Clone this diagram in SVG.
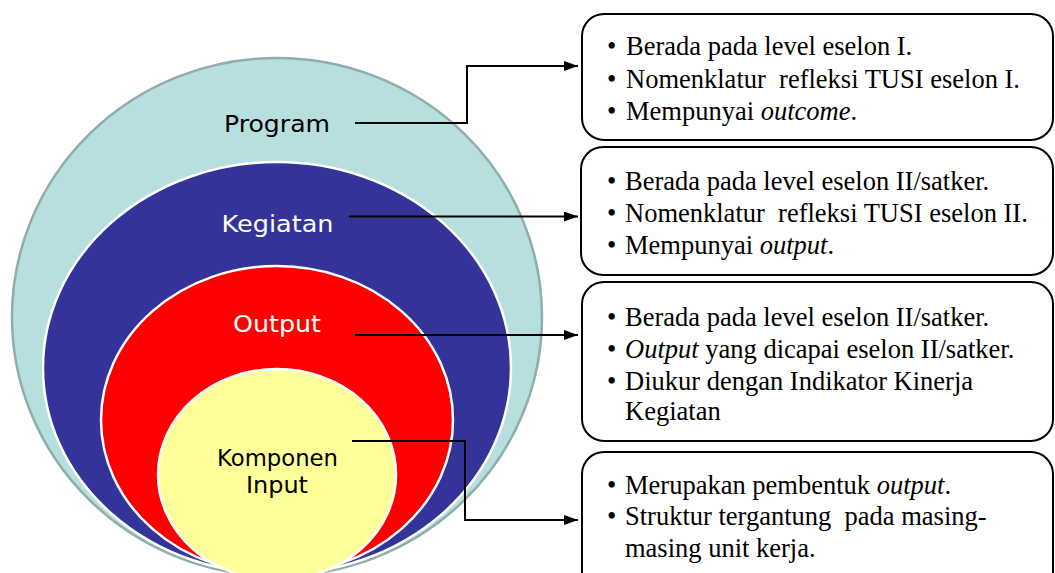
<svg xmlns="http://www.w3.org/2000/svg" width="1055" height="573" viewBox="0 0 1055 573">
  <defs>
    <marker id="arr" viewBox="0 0 14 10" refX="14" refY="5" markerWidth="14" markerHeight="10" markerUnits="userSpaceOnUse" orient="auto">
      <path d="M0,0 L14,5 L0,10 Z" fill="#000"/>
    </marker>
  </defs>
  <style>
    .lbl { font-family: "DejaVu Sans", Verdana, sans-serif; font-size: 23px; text-anchor: middle; }
    .box { fill: #fff; stroke: #000; stroke-width: 2; }
    .bt { font-family: "Liberation Serif", "Times New Roman", serif; font-size: 26.5px; fill: #000; }
    .conn { fill: none; stroke: #000; stroke-width: 2; }
  </style>
  <rect width="1055" height="573" fill="#fff"/>

  <g id="program">
    <ellipse cx="277" cy="317" rx="265" ry="259" fill="#b7dfe0" stroke="#8fadad" stroke-width="2.5"/>
    <text class="lbl" x="277" y="131.5" fill="#000" textLength="106" lengthAdjust="spacingAndGlyphs">Program</text>
  </g>
  <g id="kegiatan">
    <ellipse cx="277" cy="368" rx="234" ry="206" fill="#333399" stroke="#fff" stroke-width="2.5"/>
    <text class="lbl" x="277.5" y="232" fill="#fff" textLength="112" lengthAdjust="spacingAndGlyphs">Kegiatan</text>
  </g>
  <g id="output">
    <ellipse cx="277" cy="420" rx="176" ry="154" fill="#ff0000" stroke="#fff" stroke-width="2.5"/>
    <text class="lbl" x="277" y="331.5" fill="#fff" textLength="88" lengthAdjust="spacingAndGlyphs">Output</text>
  </g>
  <g id="komponen">
    <ellipse cx="277" cy="474.5" rx="119" ry="105.5" fill="#ffff99" stroke="#fff" stroke-width="2.5"/>
    <text class="lbl" x="277.5" y="466" fill="#000" textLength="121" lengthAdjust="spacingAndGlyphs">Komponen</text>
    <text class="lbl" x="277" y="492.5" fill="#000" textLength="62" lengthAdjust="spacingAndGlyphs">Input</text>
  </g>

  <g id="connectors">
    <polyline class="conn" points="355,123 467,123 467,66 578,66" marker-end="url(#arr)"/>
    <polyline class="conn" points="349,216.5 578,216.5" marker-end="url(#arr)"/>
    <polyline class="conn" points="355,335 578,335" marker-end="url(#arr)"/>
    <polyline class="conn" points="352,441 465,441 465,520 578,520" marker-end="url(#arr)"/>
  </g>

  <g id="box1">
    <rect class="box" x="582" y="14" width="471" height="126" rx="22" ry="22"/>
    <text class="bt" xml:space="preserve"><tspan x="607" y="55">•</tspan><tspan x="626" y="55">Berada pada level eselon I.</tspan></text>
    <text class="bt" xml:space="preserve"><tspan x="607" y="88">•</tspan><tspan x="626" y="88">Nomenklatur  refleksi TUSI eselon I.</tspan></text>
    <text class="bt" xml:space="preserve"><tspan x="607" y="120">•</tspan><tspan x="626" y="120">Mempunyai <tspan font-style="italic">outcome</tspan>.</tspan></text>
  </g>
  <g id="box2">
    <rect class="box" x="581" y="147" width="472" height="128" rx="22" ry="22"/>
    <text class="bt" xml:space="preserve"><tspan x="607" y="190">•</tspan><tspan x="625" y="190">Berada pada level eselon II/satker.</tspan></text>
    <text class="bt" xml:space="preserve"><tspan x="607" y="222">•</tspan><tspan x="625" y="222">Nomenklatur  refleksi TUSI eselon II.</tspan></text>
    <text class="bt" xml:space="preserve"><tspan x="607" y="254">•</tspan><tspan x="625" y="254">Mempunyai <tspan font-style="italic">output</tspan>.</tspan></text>
  </g>
  <g id="box3">
    <rect class="box" x="582" y="282" width="471" height="159" rx="22" ry="22"/>
    <text class="bt" xml:space="preserve"><tspan x="607" y="326">•</tspan><tspan x="625" y="326">Berada pada level eselon II/satker.</tspan></text>
    <text class="bt" xml:space="preserve"><tspan x="607" y="358">•</tspan><tspan x="625" y="358"><tspan font-style="italic">Output</tspan> yang dicapai eselon II/satker.</tspan></text>
    <text class="bt" xml:space="preserve"><tspan x="607" y="390">•</tspan><tspan x="625" y="390">Diukur dengan Indikator Kinerja</tspan></text>
    <text class="bt" xml:space="preserve"><tspan x="625" y="420">Kegiatan</tspan></text>
  </g>
  <g id="box4">
    <rect class="box" x="582" y="452" width="471" height="150" rx="22" ry="22"/>
    <text class="bt" xml:space="preserve"><tspan x="607" y="494">•</tspan><tspan x="625" y="494">Merupakan pembentuk <tspan font-style="italic">output</tspan>.</tspan></text>
    <text class="bt" xml:space="preserve"><tspan x="607" y="525">•</tspan><tspan x="625" y="525">Struktur tergantung  pada masing-</tspan></text>
    <text class="bt" xml:space="preserve"><tspan x="625" y="557">masing unit kerja.</tspan></text>
  </g>
</svg>
